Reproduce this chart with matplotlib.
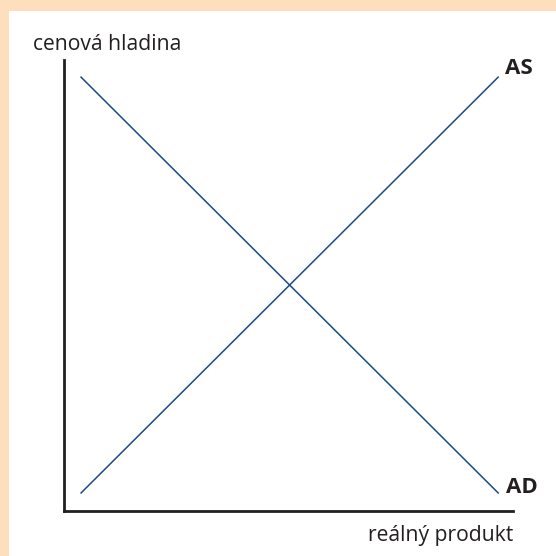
import matplotlib
matplotlib.use("Agg")
import matplotlib.pyplot as plt
from matplotlib.patches import Rectangle

# Data (schematic AS-AD model)
ad_x = [0.38, 9.67]
ad_y = [9.62, 0.40]
as_x = [0.38, 9.67]
as_y = [0.40, 9.62]
curve_labels = ["AS", "AD"]
x_label = "reálný produkt"
y_label = "cenová hladina"

W = H = 556
fig = plt.figure(figsize=(W / 100, H / 100), dpi=100)
fig.patch.set_facecolor("#FDDFBD")
fig.add_artist(Rectangle((9 / W, 0), 1, 1 - 11 / H, transform=fig.transFigure,
                         facecolor="white", edgecolor="none", zorder=0))

fam = ["Open Sans", "DejaVu Sans"]
ax = fig.add_axes([64 / W, 1 - 511 / H, (513 - 64) / W, (511 - 60) / H])
ax.set_facecolor("none")
ax.set_xlim(0, 10)
ax.set_ylim(0, 10)
for s in ["top", "right"]:
    ax.spines[s].set_visible(False)
for s in ["left", "bottom"]:
    ax.spines[s].set_color("#231F20")
    ax.spines[s].set_linewidth(2)
ax.set_xticks([])
ax.set_yticks([])

line_color = "#1B4A86"
ax.plot(ad_x, ad_y, color=line_color, lw=1.1)
ax.plot(as_x, as_y, color=line_color, lw=1.1)

ax.text(as_x[1] + 0.15, as_y[1] + 0.2, curve_labels[0], fontsize=16, fontweight="bold",
        color="#231F20", family=fam, ha="left", va="center")
ax.text(ad_x[1] + 0.17, ad_y[1] + 0.11, curve_labels[1], fontsize=16, fontweight="bold",
        color="#231F20", family=fam, ha="left", va="center")

fig.text(513 / W, 1 - 535 / H, x_label, fontsize=15.2, color="#231F20", family=fam,
         ha="right", va="center")
fig.text(33 / W, 1 - 45 / H, y_label, fontsize=15.2, color="#231F20", family=fam,
         ha="left", va="center")

fig.savefig("out.png", dpi=100)
